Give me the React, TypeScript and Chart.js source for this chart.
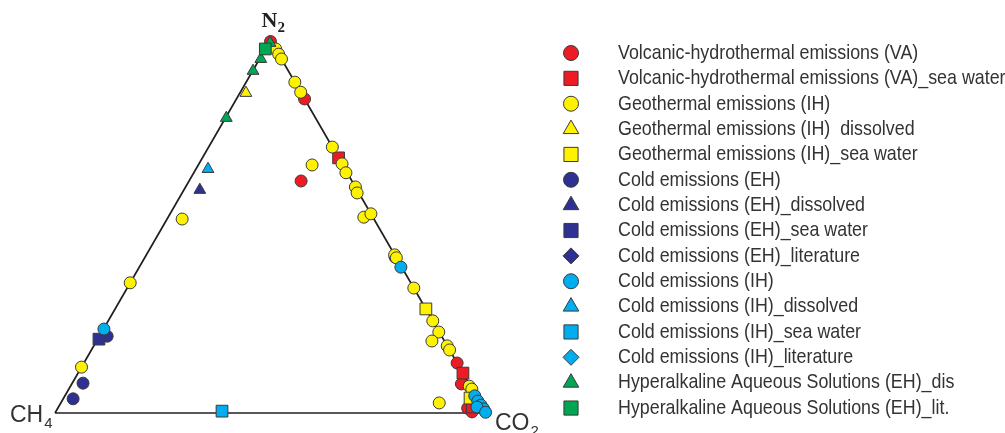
import React, { useEffect, useRef } from 'react';
import { Chart, registerables } from 'chart.js';
import { drawPoint } from 'chart.js/helpers';

Chart.register(...registerables);

// Compositions as [N2, CO2, CH4] in %
const volcanicVA = [
  [99.6, 0.2, 0.2], [84.2, 15.8, 0], [62.2, 26.0, 11.8], [41.8, 58.0, 0.2],
  [13.4, 86.6, 0], [7.8, 90.4, 1.8], [1.3, 95.1, 3.6], [0.3, 96.6, 3.1],
];
const volcanicVASea = [[68.4, 31.6, 0], [10.7, 89.3, 0], [1.6, 96.0, 2.4]];
const geothermalIH = [
  [97.6, 2.4, 0], [96.2, 3.8, 0], [94.9, 5.1, 0], [88.7, 11.3, 0], [86.0, 14.0, 0],
  [71.3, 28.7, 0], [66.8, 33.2, 0], [64.4, 35.3, 0.3], [66.5, 26.4, 7.1], [60.6, 39.4, 0],
  [59.0, 40.6, 0.4], [52.5, 45.4, 2.1], [53.4, 46.6, 0], [42.4, 57.6, 0], [41.6, 58.4, 0],
  [33.5, 66.5, 0], [24.7, 75.3, 0], [21.7, 78.2, 0.1], [19.3, 77.8, 2.9], [18.0, 82.0, 0],
  [16.9, 83.1, 0], [7.2, 92.5, 0.3], [6.4, 93.5, 0.1], [2.7, 87.8, 9.5],
  [52.0, 3.5, 44.5], [34.9, 0, 65.1], [12.3, 0, 87.7],
];
const geothermalIHDissolved = [[85.8, 1.4, 12.8]];
const geothermalIHSea = [[27.9, 72.1, 0], [4.0, 94.3, 1.7]];
const coldEH = [[3.8, 2.3, 93.9], [8.0, 2.5, 89.5], [20.6, 1.8, 77.6]];
const coldEHDissolved = [[59.8, 3.7, 36.5]];
const coldEHSea = [[19.8, 0.3, 79.9]];
const coldEHLit: number[][] = [];
const coldIH = [
  [22.5, 0.1, 77.4], [39.1, 60.7, 0.2], [4.6, 95.1, 0.3], [3.2, 96.5, 0.3],
  [2.1, 97.8, 0.1], [1.1, 98.9, 0], [1.6, 97.1, 1.3], [0.2, 99.8, 0],
];
const coldIHDissolved = [[65.4, 2.8, 31.8]];
const coldIHSea = [[0.5, 38.5, 61.0]];
const coldIHLit: number[][] = [];
const hyperalkalineDis = [[99.2, 0.3, 0.5], [94.9, 0.3, 4.8], [91.7, 0.1, 8.2], [79.1, 0.2, 20.7]];
const hyperalkalineLit = [[97.6, 0, 2.4]];

const seriesNames = [
  'Volcanic-hydrothermal emissions (VA)',
  'Volcanic-hydrothermal emissions (VA)_sea water',
  'Geothermal emissions (IH)',
  'Geothermal emissions (IH)  dissolved',
  'Geothermal emissions (IH)_sea water',
  'Cold emissions (EH)',
  'Cold emissions (EH)_dissolved',
  'Cold emissions (EH)_sea water',
  'Cold emissions (EH)_literature',
  'Cold emissions (IH)',
  'Cold emissions (IH)_dissolved',
  'Cold emissions (IH)_sea water',
  'Cold emissions (IH)_literature',
  'Hyperalkaline Aqueous Solutions (EH)_dis',
  'Hyperalkaline Aqueous Solutions (EH)_lit.',
];
const seriesData = [
  volcanicVA, volcanicVASea, geothermalIH, geothermalIHDissolved, geothermalIHSea,
  coldEH, coldEHDissolved, coldEHSea, coldEHLit, coldIH, coldIHDissolved, coldIHSea,
  coldIHLit, hyperalkalineDis, hyperalkalineLit,
];
const RED = '#ED1C24', YELLOW = '#FFF200', NAVY = '#2E3192', CYAN = '#00AEEF', GREEN = '#00A651';
const seriesColors = [RED, RED, YELLOW, YELLOW, YELLOW, NAVY, NAVY, NAVY, NAVY, CYAN, CYAN, CYAN, CYAN, GREEN, GREEN];
const seriesShapes = [
  'circle', 'rect', 'circle', 'triangle', 'rect', 'circle', 'triangle', 'rect', 'rectRot',
  'circle', 'triangle', 'rect', 'rectRot', 'triangle', 'rect',
];

const H = Math.sqrt(3) / 2;
const toXY = (p: number[]) => {
  const s = p[0] + p[1] + p[2];
  return { x: (p[1] + p[0] / 2) / s, y: (p[0] / s) * H };
};
const chartRadius: Record<string, number> = { circle: 6, rect: 8.3, triangle: 6.8, rectRot: 7 };
const legendRadius: Record<string, number> = { circle: 7.5, rect: 10, triangle: 9, rectRot: 8 };
const EDGE = '#3a3a3a';
const INK = '#231f20';

const labelsPlugin = {
  id: 'ternaryLabels',
  afterDraw(chart: any) {
    const ctx = chart.ctx;
    const xs = chart.scales.x, ys = chart.scales.y;
    const apexX = xs.getPixelForValue(0.5), apexY = ys.getPixelForValue(H);
    const blX = xs.getPixelForValue(0), blY = ys.getPixelForValue(0);
    const brX = xs.getPixelForValue(1);
    ctx.save();
    ctx.fillStyle = INK;
    ctx.textBaseline = 'alphabetic';
    ctx.textAlign = 'left';
    ctx.font = 'bold 22px "Liberation Serif", serif';
    ctx.fillText('N', apexX - 9, apexY - 13);
    ctx.font = 'bold 15px "Liberation Serif", serif';
    ctx.fillText('2', apexX + 7, apexY - 8);

    ctx.fillStyle = '#333';
    const big = '23px "Liberation Sans", Arial, sans-serif';
    const small = '15px "Liberation Sans", Arial, sans-serif';
    ctx.font = big;
    const chW = ctx.measureText('CH').width;
    const coW = ctx.measureText('CO').width;
    const chX = blX - 45;
    ctx.fillText('CH', chX, blY + 9);
    const coX = brX + 9;
    ctx.fillText('CO', coX, blY + 17);
    ctx.font = small;
    ctx.fillText('4', chX + chW + 1, blY + 15);
    ctx.fillText('2', coX + coW + 1, blY + 23);

    // legend
    const mx = 571, tx = 618, y0 = 53, dy = 25.36;
    seriesNames.forEach((name, i) => {
      const y = y0 + i * dy;
      const shape = seriesShapes[i];
      ctx.fillStyle = seriesColors[i];
      ctx.strokeStyle = EDGE;
      ctx.lineWidth = 1;
      drawPoint(ctx, { pointStyle: shape, radius: legendRadius[shape], borderWidth: 1, rotation: 0 } as any, mx, y);
      ctx.save();
      ctx.fillStyle = '#333';
      ctx.font = '21px "Liberation Sans", Arial, sans-serif';
      ctx.textBaseline = 'middle';
      ctx.translate(tx, y);
      ctx.scale(0.85, 1);
      ctx.fillText(name, 0, 0);
      ctx.restore();
    });
    ctx.restore();
  },
};

export default function App() {
  const ref = useRef<HTMLCanvasElement>(null);
  useEffect(() => {
    if (!ref.current) return;
    const frame = {
      type: 'line' as const,
      label: 'frame',
      data: [{ x: 0, y: 0 }, { x: 1, y: 0 }, { x: 0.5, y: H }, { x: 0, y: 0 }],
      borderColor: INK,
      borderWidth: 1.7,
      pointRadius: 0,
      fill: false,
      showLine: true,
      order: 1000,
      clip: false as any,
      tension: 0,
    };
    const sets = seriesData.map((arr, i) => ({
      type: 'scatter' as const,
      label: seriesNames[i],
      data: arr.map(toXY),
      pointStyle: seriesShapes[i] as any,
      pointRadius: chartRadius[seriesShapes[i]],
      backgroundColor: seriesColors[i],
      borderColor: EDGE,
      borderWidth: 1,
      order: 100 - i,
      clip: false as any,
    }));
    const chart = new Chart(ref.current, {
      type: 'scatter',
      data: { datasets: [frame as any, ...sets] },
      options: {
        animation: false,
        responsive: false,
        events: [],
        layout: { padding: { left: 55, right: 519, top: 40, bottom: 20 } },
        scales: {
          x: { type: 'linear', min: 0, max: 1, display: false },
          y: { type: 'linear', min: 0, max: H, display: false },
        },
        plugins: { legend: { display: false }, tooltip: { enabled: false } },
      },
      plugins: [labelsPlugin],
    });
    return () => chart.destroy();
  }, []);
  return (
    <div style={{ position: 'absolute', left: 0, top: 0, width: 1005, height: 433, background: '#fff' }}>
      <canvas ref={ref} width={1005} height={433} />
    </div>
  );
}
